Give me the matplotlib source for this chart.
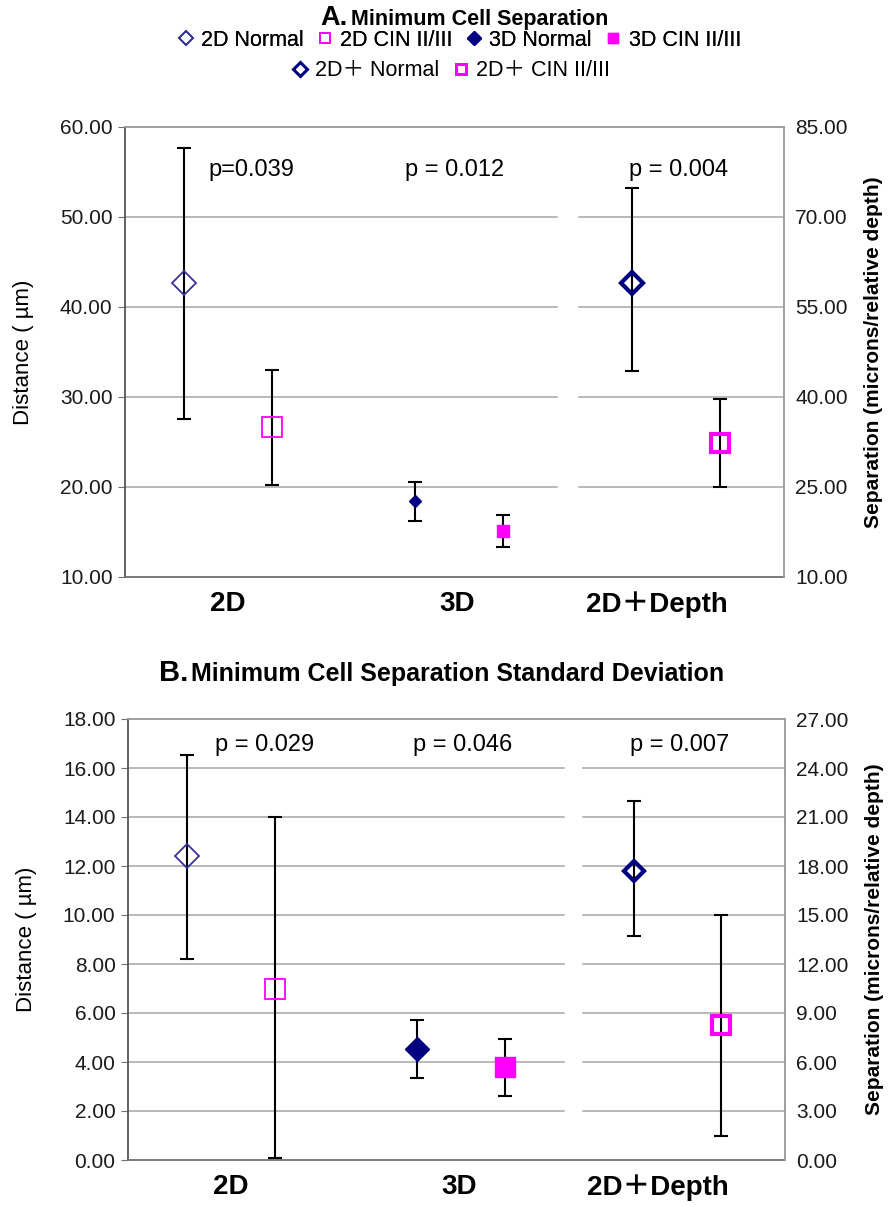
import numpy as np
import matplotlib
matplotlib.use("Agg")
import matplotlib.pyplot as plt
from matplotlib.lines import Line2D
from matplotlib.ticker import FormatStrFormatter

plt.rcParams['font.family'] = ['Liberation Sans', 'Noto Sans CJK JP', 'DejaVu Sans']

categories = ['2D', '3D', '2D＋Depth']
series_names = ['2D Normal', '2D CIN II/III', '3D Normal', '3D CIN II/III',
                '2D＋ Normal', '2D＋ CIN II/III']

# panel A - minimum cell separation (2D, 3D on left axis, 2D+Depth on right axis)
a_normal = [42.7, 18.4, 59.0]
a_normal_lo = [27.5, 16.2, 44.4]
a_normal_hi = [57.7, 20.5, 74.8]
a_cin = [26.7, 15.1, 32.3]
a_cin_lo = [20.2, 13.3, 25.0]
a_cin_hi = [33.0, 16.9, 39.7]
a_pvalues = ['p=0.039', 'p = 0.012', 'p = 0.004']

# panel B - standard deviation of minimum cell separation
b_normal = [12.4, 4.55, 17.7]
b_normal_lo = [8.2, 3.35, 13.7]
b_normal_hi = [16.55, 5.72, 22.0]
b_cin = [7.0, 3.8, 8.27]
b_cin_lo = [0.1, 2.62, 1.5]
b_cin_hi = [14.0, 4.93, 15.0]
b_pvalues = ['p = 0.029', 'p = 0.046', 'p = 0.007']

NAVY = '#000080'
NAVY_LIGHT = '#34349a'
MAGENTA = '#ff00ff'
GRID = '#a6a6a6'

normal_styles = [dict(marker='D', mfc='none', mec=NAVY_LIGHT, mew=1.3),
                 dict(marker='D', mfc=NAVY, mec=NAVY, mew=1),
                 dict(marker='D', mfc='none', mec=NAVY, mew=3)]
cin_styles = [dict(marker='s', mfc='none', mec=MAGENTA, mew=1.3),
              dict(marker='s', mfc=MAGENTA, mec=MAGENTA, mew=1),
              dict(marker='s', mfc='none', mec=MAGENTA, mew=3)]

centers = np.array([0.47, 1.52, 2.51])
offset = 0.20
label_pos = [0.47, 1.51, 2.42]


def draw_panel(ax, normal, nlo, nhi, cin, clo, chi, pvals, ylim_l, ticks_l,
               ylim_r, ticks_r, nsize, csize, p_x, p_y, gap):
    ax2 = ax.twinx()
    ax.set_xlim(0, 3)
    ax.set_ylim(*ylim_l)
    ax2.set_ylim(*ylim_r)

    for t in ticks_l[1:-1]:
        ax.axhline(t, xmin=0, xmax=gap[0], color=GRID, lw=1.1, zorder=0)
        ax.axhline(t, xmin=gap[1], xmax=1, color=GRID, lw=1.1, zorder=0)

    for i in range(3):
        target = ax if i < 2 else ax2
        groups = [(centers[i] - offset, normal[i], nlo[i], nhi[i], normal_styles[i], nsize[i]),
                  (centers[i] + offset, cin[i], clo[i], chi[i], cin_styles[i], csize[i])]
        for x, m, lo, hi, st, ms in groups:
            target.errorbar([x], [m], yerr=[[m - lo], [hi - m]], fmt='none',
                            ecolor='black', elinewidth=1.5, capsize=5, capthick=1.5, zorder=3)
            target.plot([x], [m], linestyle='none', ms=ms, zorder=4, **st)

    for x, s in zip(p_x, pvals):
        ax.text(x, p_y, s, transform=ax.get_xaxis_transform(),
                ha='center', va='center', fontsize=17)

    ax.set_yticks(ticks_l)
    ax2.set_yticks(ticks_r)
    ax.yaxis.set_major_formatter(FormatStrFormatter('%.2f'))
    ax2.yaxis.set_major_formatter(FormatStrFormatter('%.2f'))
    ax.tick_params(axis='y', direction='out', length=5, color='#707070',
                   labelsize=15, pad=4, labelcolor='#1a1a1a')
    ax2.tick_params(axis='y', length=0, labelsize=15, pad=8, labelcolor='#1a1a1a')
    ax.set_xticks(label_pos)
    ax.set_xticklabels(categories, fontsize=20, fontweight='bold')
    ax.tick_params(axis='x', length=0, pad=10)

    ax.spines['left'].set_color('#555555')
    ax.spines['bottom'].set_color('#707070')
    ax.spines['top'].set_color('#999999')
    ax.spines['right'].set_visible(False)
    for side in ['left', 'top', 'bottom']:
        ax2.spines[side].set_visible(False)
    ax2.spines['right'].set_color('#999999')
    for sp in list(ax.spines.values()) + list(ax2.spines.values()):
        sp.set_linewidth(1.3)

    ax.set_ylabel('Distance ( µm)', fontsize=16)
    ax.yaxis.set_label_coords(-0.138, 0.5)
    ax2.set_ylabel('Separation (microns/relative depth)', fontsize=15, fontweight='bold')
    ax2.yaxis.set_label_coords(1.122, 0.5)
    return ax2


fig = plt.figure(figsize=(8.93, 12.07), dpi=100)
W, H = 893, 1207

axA = fig.add_axes([125 / W, 1 - 577 / H, 659 / W, 450 / H])
draw_panel(axA, a_normal, a_normal_lo, a_normal_hi, a_cin, a_cin_lo, a_cin_hi, a_pvalues,
           (10, 60), np.arange(10, 61, 10), (10, 85), np.arange(10, 86, 15),
           [12, 6, 11], [14, 9, 13], [0.575, 1.50, 2.52], 0.904, (0.656, 0.689))

axB = fig.add_axes([128 / W, 1 - 1160 / H, 657 / W, 441 / H])
draw_panel(axB, b_normal, b_normal_lo, b_normal_hi, b_cin, b_cin_lo, b_cin_hi, b_pvalues,
           (0, 18), np.arange(0, 19, 2), (0, 27), np.arange(0, 28, 3),
           [12, 12, 10], [14, 15, 13], [0.625, 1.53, 2.52], 0.94, (0.664, 0.692))

# titles
fig.text(348 / W, 1 - 25 / H, 'A.', ha='right', va='baseline', fontsize=19.5, fontweight='bold')
fig.text(351 / W, 1 - 25 / H, 'Minimum Cell Separation', ha='left', va='baseline',
         fontsize=15.5, fontweight='bold')
fig.text(188 / W, 1 - 681 / H, 'B.', ha='right', va='baseline', fontsize=21, fontweight='bold')
fig.text(191 / W, 1 - 681 / H, 'Minimum Cell Separation Standard Deviation', ha='left',
         va='baseline', fontsize=18, fontweight='bold')

# legend of panel A, two centred rows
handle_styles = [normal_styles[0], cin_styles[0], normal_styles[1], cin_styles[1],
                 normal_styles[2], cin_styles[2]]
handles = []
for name, st in zip(series_names, handle_styles):
    st = dict(st)
    st['mew'] = min(st['mew'], 2.2)
    handles.append(Line2D([], [], linestyle='none', ms=7, label=name, **st))

leg_kw = dict(frameon=False, fontsize=15.5, handletextpad=0.2, columnspacing=0.5,
              handlelength=1.0, borderpad=0, borderaxespad=0)
leg1 = fig.legend(handles=handles[:4], loc='center', bbox_to_anchor=(458 / W, 1 - 40 / H),
                  ncol=4, **leg_kw)
fig.add_artist(leg1)
fig.legend(handles=handles[4:], loc='center', bbox_to_anchor=(450 / W, 1 - 71 / H),
           ncol=2, **leg_kw)

fig.savefig('out.png', dpi=100)
